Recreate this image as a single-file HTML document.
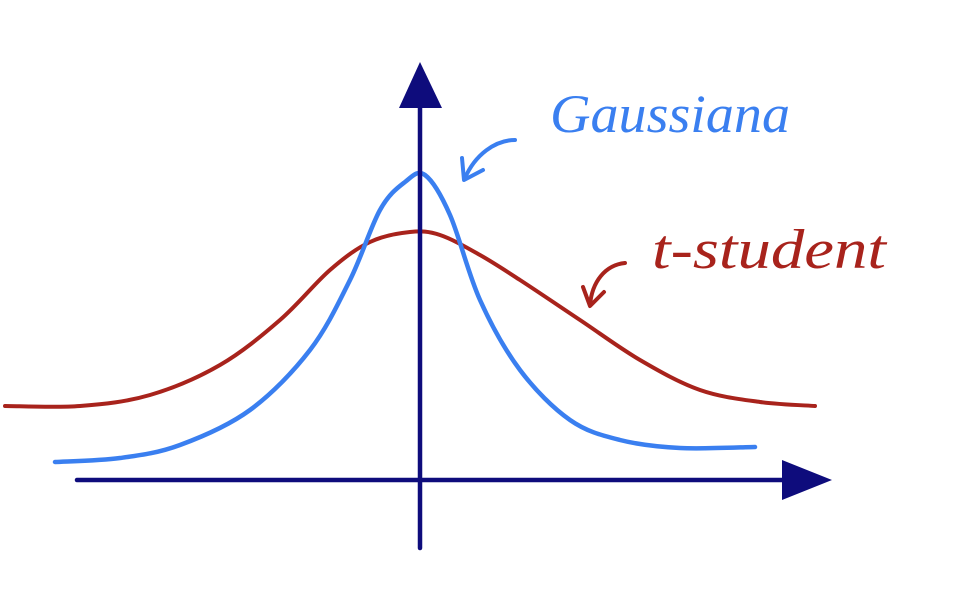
<!DOCTYPE html>
<html><head><meta charset="utf-8"><style>
html,body{margin:0;padding:0;background:#fff;}
svg{display:block;}
</style></head><body>
<svg id="chart" width="964" height="606" viewBox="0 0 964 606" xmlns="http://www.w3.org/2000/svg">
  <rect width="964" height="606" fill="#fff"/>
  <g id="curves"></g>
  <line x1="77" y1="480" x2="790" y2="480" stroke="#0e0c7c" stroke-width="4.5" stroke-linecap="round"/>
  <polygon points="782,460 832,480 782,500" fill="#0e0c7c"/>
  <line x1="420" y1="548" x2="420" y2="100" stroke="#0e0c7c" stroke-width="4.5" stroke-linecap="round"/>
  <polygon points="399,108 420,62 442,108" fill="#0e0c7c"/>
  <text x="550" y="132" font-family="Liberation Serif, serif" font-style="italic" font-size="54" fill="#3a7ff0" textLength="240" lengthAdjust="spacingAndGlyphs">Gaussiana</text>
  <path d="M515,140 C495,140 475,155 465,178" fill="none" stroke="#3a7ff0" stroke-width="4" stroke-linecap="round"/>
  <path d="M462,158 L464,180 L483,170" fill="none" stroke="#3a7ff0" stroke-width="4" stroke-linecap="round" stroke-linejoin="round"/>
  <text x="652" y="268" font-family="Liberation Serif, serif" font-style="italic" font-size="56" fill="#a8231c" textLength="234" lengthAdjust="spacingAndGlyphs">t-student</text>
  <path d="M625,263 C605,265 592,282 590,305" fill="none" stroke="#a8231c" stroke-width="4" stroke-linecap="round"/>
  <path d="M583,287 L590,306 L604,292" fill="none" stroke="#a8231c" stroke-width="4" stroke-linecap="round" stroke-linejoin="round"/>
</svg>
<script>
const gaussX = [-3.65,-3.0,-2.4,-1.7,-1.1,-0.7,-0.4,-0.15,0.05,0.3,0.6,1.0,1.5,2.0,2.6,3.35];
const gaussY = [0.18,0.22,0.35,0.70,1.30,2.00,2.70,2.98,3.05,2.65,1.80,1.10,0.60,0.40,0.32,0.33];
const studentX = [-4.15,-3.4,-2.7,-2.0,-1.4,-0.9,-0.5,-0.1,0.2,0.6,1.0,1.6,2.2,2.8,3.4,3.95];
const studentY = [0.74,0.74,0.85,1.15,1.60,2.10,2.38,2.48,2.45,2.25,2.00,1.60,1.20,0.90,0.78,0.74];

function sx(v){return 420 + v*100;}
function sy(v){return 480 - v*100;}
function smoothPath(xs, ys){
  const p = xs.map((x,i)=>[sx(x), sy(ys[i])]);
  let d = 'M'+p[0][0]+','+p[0][1];
  for(let i=0;i<p.length-1;i++){
    const p0=p[Math.max(0,i-1)], p1=p[i], p2=p[i+1], p3=p[Math.min(p.length-1,i+2)];
    const c1x=p1[0]+(p2[0]-p0[0])/6, c1y=p1[1]+(p2[1]-p0[1])/6;
    const c2x=p2[0]-(p3[0]-p1[0])/6, c2y=p2[1]-(p3[1]-p1[1])/6;
    d+=' C'+c1x+','+c1y+' '+c2x+','+c2y+' '+p2[0]+','+p2[1];
  }
  return d;
}
const g = document.getElementById('curves');
const ns = 'http://www.w3.org/2000/svg';
const red = document.createElementNS(ns,'path');
red.setAttribute('d', smoothPath(studentX, studentY));
red.setAttribute('fill','none');
red.setAttribute('stroke','#a8231c');
red.setAttribute('stroke-width','4');
red.setAttribute('stroke-linecap','round');


g.appendChild(red);
const blue = document.createElementNS(ns,'path');
blue.setAttribute('d', smoothPath(gaussX, gaussY));
blue.setAttribute('fill','none');
blue.setAttribute('stroke','#3a7ff0');
blue.setAttribute('stroke-width','4.5');
blue.setAttribute('stroke-linecap','round');


g.appendChild(blue);
</script>
</body></html>
